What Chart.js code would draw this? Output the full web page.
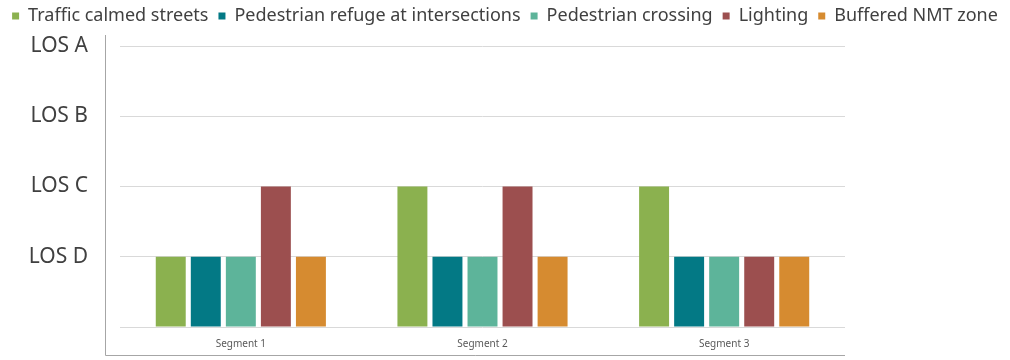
<!DOCTYPE html>
<html>
<head>
<meta charset="utf-8">
<script src="https://cdn.jsdelivr.net/npm/chart.js@4/dist/chart.umd.min.js"></script>
<style>
  html, body { margin: 0; padding: 0; background: #fff; }
  #wrap { width: 1010px; height: 360px; }
</style>
</head>
<body>
<div id="wrap"><canvas id="grafico"></canvas></div>
<script>
// datos (1 = LOS D ... 4 = LOS A)
const segmentos = ['Segment 1', 'Segment 2', 'Segment 3'];
const nivelesLOS = ['', 'LOS D', 'LOS C', 'LOS B', 'LOS A'];

const trafficCalmed = [1, 2, 2];
const pedestrianRefuge = [1, 1, 1];
const pedestrianCrossing = [1, 1, 1];
const lighting = [2, 2, 1];
const bufferedNMT = [1, 1, 1];

const fuente = "'Noto Sans', 'Open Sans', sans-serif";

// marco: linea vertical a la izquierda y linea inferior, como en el original
const marco = {
    id: 'marco',
    beforeDraw(chart){
        const ctx = chart.ctx;
        const a = chart.chartArea;
        ctx.save();
        ctx.strokeStyle = '#a6a6a6';
        ctx.lineWidth = 1;
        ctx.beginPath();
        ctx.moveTo(a.left - 14.5, a.top - 11);
        ctx.lineTo(a.left - 14.5, a.bottom + 28.5);
        ctx.lineTo(a.right, a.bottom + 28.5);
        ctx.stroke();
        ctx.restore();
    }
};

// alto fijo para la leyenda, asi el area del grafico empieza donde en el original
const altoLeyenda = {
    id: 'altoLeyenda',
    beforeInit(chart){
        const fitOriginal = chart.legend.fit;
        chart.legend.fit = function(){
            fitOriginal.bind(chart.legend)();
            this.height = 49;
        };
    }
};

let grafico = document.getElementById('grafico');
let myChart = new Chart(grafico, {
    type: 'bar',
    data: {
        labels: segmentos,
        datasets: [
            { label: 'Traffic calmed streets', data: trafficCalmed, backgroundColor: '#8bb14f' },
            { label: 'Pedestrian refuge at intersections', data: pedestrianRefuge, backgroundColor: '#037985' },
            { label: 'Pedestrian crossing', data: pedestrianCrossing, backgroundColor: '#5db49a' },
            { label: 'Lighting', data: lighting, backgroundColor: '#9c4f4f' },
            { label: 'Buffered NMT zone', data: bufferedNMT, backgroundColor: '#d68b30' }
        ]
    },
    options: {
        responsive: true,
        maintainAspectRatio: false,
        animation: false,
        categoryPercentage: 0.725,
        barPercentage: 0.855,
        layout: { padding: { top: -3, left: 0, right: 0, bottom: 0 } },
        plugins: {
            legend: {
                position: 'top',
                labels: {
                    usePointStyle: true,
                    pointStyle: 'rect',
                    boxWidth: 7,
                    boxHeight: 7,
                    padding: 10,
                    color: '#404040',
                    font: { family: fuente, size: 18 }
                }
            },
            tooltip: { enabled: false }
        },
        scales: {
            x: {
                grid: { display: false },
                border: { display: false },
                ticks: { color: '#595959', font: { family: fuente, size: 10 }, padding: 3 },
                afterFit(scale){ scale.height = 33; }
            },
            y: {
                min: 0,
                max: 4,
                ticks: {
                    stepSize: 1,
                    padding: 32,
                    color: '#404040',
                    font: { family: fuente, size: 21 },
                    callback: (v) => nivelesLOS[v]
                },
                grid: { color: '#d9d9d9', drawTicks: false },
                border: { display: false },
                afterFit(scale){
                    scale.width = 120;
                    scale.paddingTop = 0;
                    scale.paddingBottom = 0;
                }
            },
            // eje vacio solo para dejar el espacio blanco de la derecha
            derecha: {
                position: 'right',
                grid: { display: false },
                border: { display: false },
                ticks: { display: false },
                afterFit(scale){ scale.width = 165; }
            }
        }
    },
    plugins: [marco, altoLeyenda]
});
</script>
</body>
</html>
